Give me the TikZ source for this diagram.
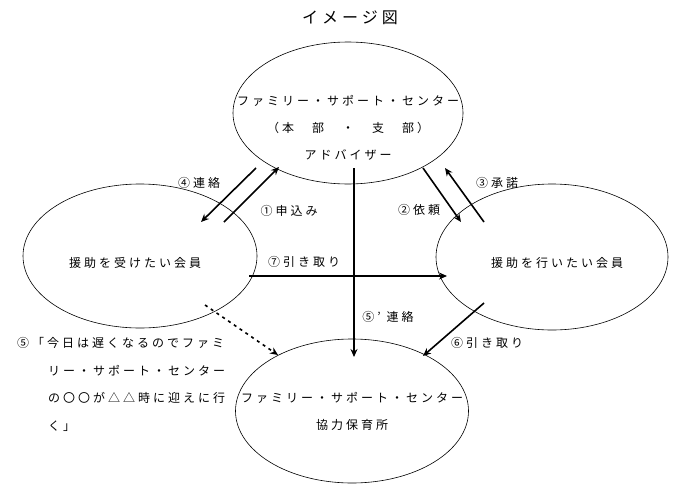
\documentclass[tikz,border=0pt]{standalone}
\usepackage{fontspec}
\usetikzlibrary{shapes.geometric,arrows.meta}
\newfontfamily\jp[LetterSpace=25]{Noto Sans CJK JP}
\newfontfamily\jptitle[LetterSpace=25]{Noto Sans CJK JP}
\begin{document}
\begin{tikzpicture}[x=1pt,y=-1pt,
  oval/.style={draw,ellipse,line width=0.6pt,inner sep=0pt},
  txt/.style={inner sep=0pt,font=\jp\fontsize{12}{12}\selectfont},
  arr/.style={line width=1.6pt,-{Stealth[length=8pt,width=7pt]}},
  darr/.style={line width=1.6pt,dash pattern=on 3pt off 4pt,-{Stealth[length=8pt,width=7pt]}}]
\useasboundingbox (0,0) rectangle (680,490);
% title
\node[inner sep=0pt,font=\jptitle\fontsize{16}{16}\selectfont] (title) at (350,18) {イメージ図};
% ellipses
\node[oval,minimum width=230pt,minimum height=142pt] (top) at (348,113) {};
\node[oval,minimum width=234pt,minimum height=144pt] (left) at (140,256) {};
\node[oval,minimum width=232pt,minimum height=146pt] (right) at (552,257) {};
\node[oval,minimum width=233pt,minimum height=144pt] (bot) at (352,411) {};
% ellipse texts
\node[txt] (t1) at (348,101) {ファミリー・サポート・センター};
\node[txt] (t2) at (348,128) {（本　部　・　支　部）};
\node[txt] (t3) at (348,155) {アドバイザー};
\node[txt] (l1) at (135,263) {援助を受けたい会員};
\node[txt] (r1) at (557,263) {援助を行いたい会員};
\node[txt] (b1) at (352,398) {ファミリー・サポート・センター};
\node[txt] (b2) at (352,425) {協力保育所};
% endpoints
\coordinate (a4s) at (256,168); \coordinate (a4e) at (201,222);
\coordinate (a1s) at (224,222); \coordinate (a1e) at (279,167);
\coordinate (a7s) at (249,276); \coordinate (a7e) at (447,276);
\coordinate (a5s) at (354,168); \coordinate (a5e) at (354,357);
\coordinate (a2s) at (423,168); \coordinate (a2e) at (461,222);
\coordinate (a3s) at (484,222); \coordinate (a3e) at (445,168);
\coordinate (a6s) at (484,303); \coordinate (a6e) at (423,356);
\coordinate (dls) at (205,305); \coordinate (dle) at (278,355);
% arrows
\draw[arr] (a4s) -- (a4e);
\draw[arr] (a1s) -- (a1e);
\draw[arr] (a7s) -- (a7e);
\draw[arr] (a5s) -- (a5e);
\draw[arr] (a2s) -- (a2e);
\draw[arr] (a3s) -- (a3e);
\draw[arr] (a6s) -- (a6e);
\draw[darr] (dls) -- (dle);
% labels
\node[txt] (lab4) at (199,183) {④連絡};
\node[txt] (lab1) at (289,211) {①申込み};
\node[txt] (lab7) at (304,262) {⑦引き取り};
\node[txt] (lab2) at (419,210) {②依頼};
\node[txt] (lab3) at (497,183) {③承諾};
\node[txt] (lab5p) at (388,317) {⑤’ 連絡};
\node[txt] (lab6) at (487,343) {⑥引き取り};
% note block
\node[txt,anchor=west] (n1) at (17,343) {⑤「今日は遅くなるのでファミ};
\node[txt,anchor=west] (n2) at (48,371) {リー・サポート・センター};
\node[txt,anchor=west] (n3) at (48,398) {の〇〇が△△時に迎えに行};
\node[txt,anchor=west] (n4) at (48,426) {く」};
\end{tikzpicture}
\end{document}
